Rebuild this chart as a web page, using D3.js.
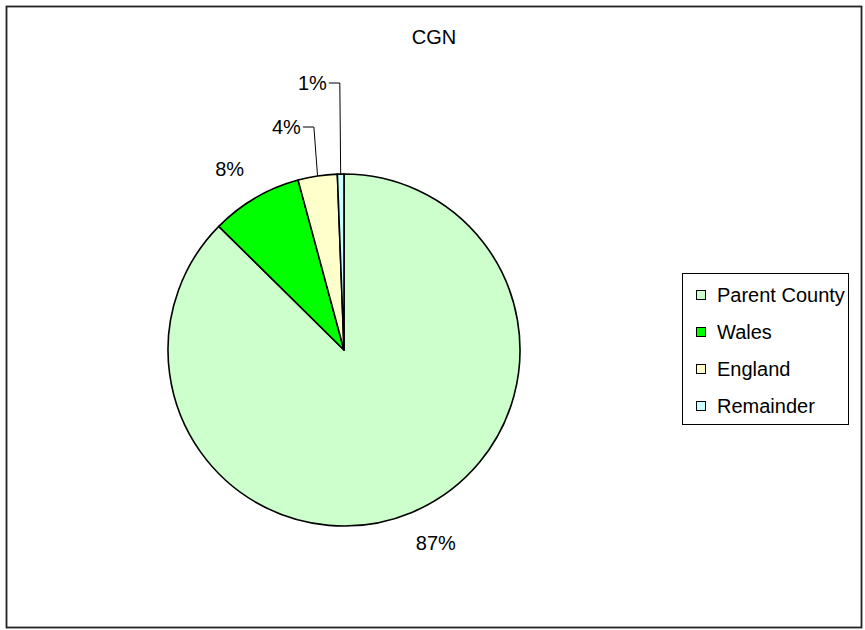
<!DOCTYPE html>
<html>
<head>
<meta charset="utf-8">
<script src="https://cdn.jsdelivr.net/npm/d3@7/dist/d3.min.js"></script>
<style>
  html, body { margin: 0; padding: 0; background: #fff; }
  svg { display: block; font-family: "Liberation Sans", Arial, sans-serif; }
</style>
</head>
<body>
<svg id="chart" width="865" height="630"></svg>
<script>
const title = "CGN";
const categories = ["Parent County", "Wales", "England", "Remainder"];
const values = [87.4, 8.4, 3.6, 0.6];
const labels = ["87%", "8%", "4%", "1%"];
const colors = ["#CCFFCC", "#00FF00", "#FFFFCC", "#CCFFFF"];

const W = 865, H = 630;
const svg = d3.select("#chart");

// outer frame
svg.append("rect").attr("x", 6.5).attr("y", 6.5).attr("width", 855).attr("height", 621)
  .attr("fill", "#fff").attr("stroke", "#222").attr("stroke-width", 1.8);

// title
svg.append("text").attr("x", 434).attr("y", 44).attr("text-anchor", "middle")
  .attr("font-size", 20).attr("fill", "#000").text(title);

const cx = 344, cy = 350, r = 176;
const g = svg.append("g").attr("transform", `translate(${cx},${cy})`);

const data = categories.map((c, i) => ({ cat: c, value: values[i], label: labels[i], color: colors[i] }));
const pie = d3.pie().sort(null).value(d => d.value);
const arcs = pie(data);
const arc = d3.arc().innerRadius(0).outerRadius(r);

g.selectAll("path.slice").data(arcs).join("path")
  .attr("class", "slice")
  .attr("d", arc)
  .attr("fill", d => d.data.color)
  .attr("stroke", "#000").attr("stroke-width", 1.6).attr("stroke-linejoin", "round");

// labels for large slices: anchor outside arc, box pushed outward
arcs.filter(a => a.value >= 5).forEach(a => {
  const mid = (a.startAngle + a.endAngle) / 2;
  const lr = r + 22;
  const ax = Math.sin(mid) * lr, ay = -Math.cos(mid) * lr;
  const t = g.append("text").attr("text-anchor", "middle")
    .attr("dominant-baseline", "central").attr("font-size", 20).text(a.data.label);
  const bb = t.node().getBBox();
  t.attr("x", ax + Math.sin(mid) * bb.width).attr("y", ay - Math.cos(mid) * bb.height / 2);
});
// small slices: stacked labels with leader lines
arcs.filter(a => a.value < 5).forEach((a, i) => {
  const mid = (a.startAngle + a.endAngle) / 2;
  const x0 = Math.sin(mid) * r, y0 = -Math.cos(mid) * r;
  const ey = -r - 47 - 44 * i;
  const ex = x0 + Math.sin(mid) * (y0 - ey) * 0.5;
  const hx = ex - 11;
  g.append("path").attr("d", `M${x0},${y0}L${ex},${ey}L${hx},${ey}`)
    .attr("fill", "none").attr("stroke", "#000").attr("stroke-width", 1);
  g.append("text").attr("x", hx - 2).attr("y", ey).attr("text-anchor", "end")
    .attr("dominant-baseline", "central").attr("font-size", 20).text(a.data.label);
});

// legend
const lg = svg.append("g").attr("transform", "translate(682,273)");
lg.append("rect").attr("x", 0.5).attr("y", 0.5).attr("width", 166).attr("height", 151)
  .attr("fill", "#fff").attr("stroke", "#000").attr("stroke-width", 1);
const rowY = d3.scalePoint().domain(categories).range([22, 133]);
const items = lg.selectAll("g.item").data(data).join("g").attr("class", "item")
  .attr("transform", d => `translate(0,${rowY(d.cat)})`);
items.append("rect").attr("x", 14.5).attr("y", -4.5).attr("width", 9).attr("height", 9)
  .attr("fill", d => d.color).attr("stroke", "#000").attr("stroke-width", 1);
items.append("text").attr("x", 35).attr("y", 0).attr("dominant-baseline", "central")
  .attr("font-size", 20).text(d => d.cat);
</script>
</body>
</html>
